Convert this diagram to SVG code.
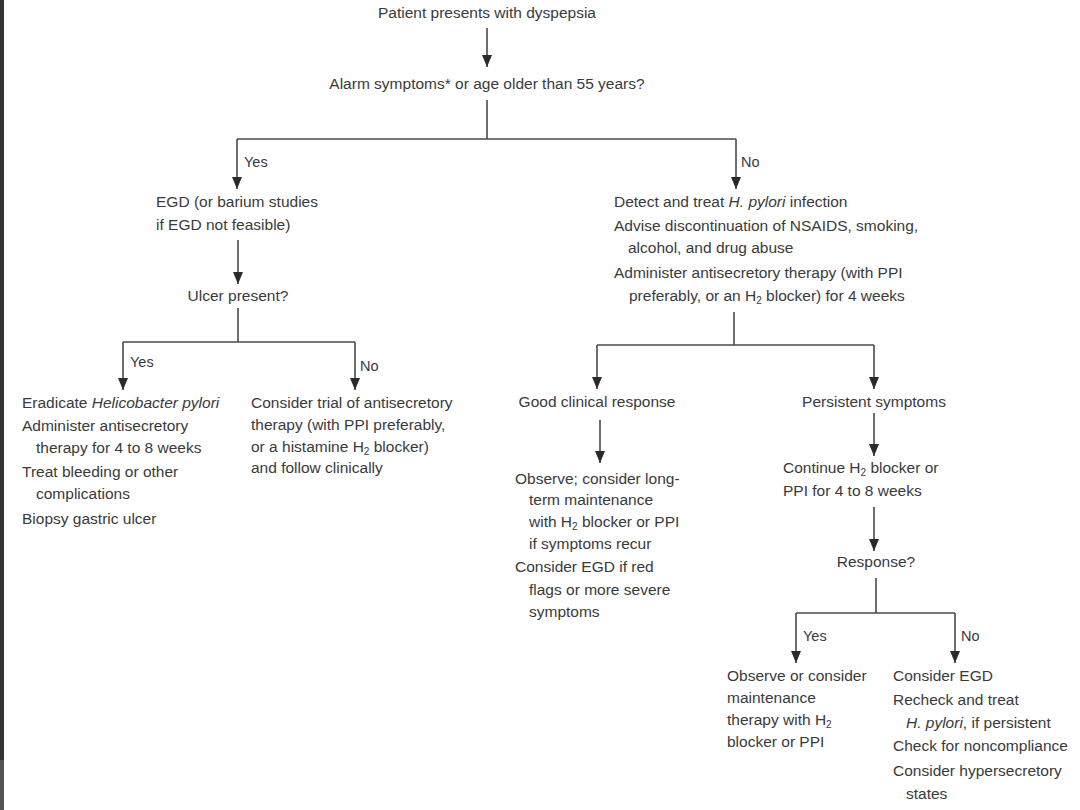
<svg xmlns="http://www.w3.org/2000/svg" width="1080" height="810" viewBox="0 0 1080 810">
<defs>
<style>
text{font-family:"Liberation Sans",Arial,sans-serif;font-size:15.5px;fill:#3a3a3a}
.c{text-anchor:middle}
.i{font-style:italic}
.lbl{font-size:14.5px}
.conn line{stroke:#4a4a4a;stroke-width:1.6;fill:none}
.sub{font-size:10px}
</style>
<marker id="ah" viewBox="0 0 12 10" refX="12" refY="5" markerWidth="12" markerHeight="10" markerUnits="userSpaceOnUse" orient="auto">
<path d="M0,0 L12,5 L0,10 z" fill="#2a2a2a"/>
</marker>
</defs>
<rect width="1080" height="810" fill="#ffffff"/>
<rect x="0" y="0" width="4" height="760" fill="#333333"/>
<rect x="0" y="760" width="4" height="50" fill="#555555"/>

<g class="conn" id="connectors">
<line x1="487" y1="28" x2="487" y2="67" marker-end="url(#ah)"/>
<line x1="487" y1="100" x2="487" y2="139"/>
<line x1="237" y1="139" x2="736" y2="139"/>
<line x1="237" y1="139" x2="237" y2="189" marker-end="url(#ah)"/>
<line x1="736" y1="139" x2="736" y2="189" marker-end="url(#ah)"/>
<line x1="238" y1="240" x2="238" y2="284" marker-end="url(#ah)"/>
<line x1="238" y1="308" x2="238" y2="342"/>
<line x1="123" y1="342" x2="355" y2="342"/>
<line x1="123" y1="342" x2="123" y2="390" marker-end="url(#ah)"/>
<line x1="355" y1="342" x2="355" y2="390" marker-end="url(#ah)"/>
<line x1="734" y1="312" x2="734" y2="345"/>
<line x1="597" y1="345" x2="874" y2="345"/>
<line x1="597" y1="345" x2="597" y2="389" marker-end="url(#ah)"/>
<line x1="874" y1="345" x2="874" y2="389" marker-end="url(#ah)"/>
<line x1="600" y1="420" x2="600" y2="463" marker-end="url(#ah)"/>
<line x1="874" y1="413" x2="874" y2="456" marker-end="url(#ah)"/>
<line x1="874" y1="507" x2="874" y2="551" marker-end="url(#ah)"/>
<line x1="876" y1="578" x2="876" y2="613"/>
<line x1="796" y1="613" x2="955" y2="613"/>
<line x1="796" y1="613" x2="796" y2="663" marker-end="url(#ah)"/>
<line x1="955" y1="613" x2="955" y2="663" marker-end="url(#ah)"/>
<text class="lbl" x="244" y="167">Yes</text>
<text class="lbl" x="741" y="167">No</text>
<text class="lbl" x="130" y="367">Yes</text>
<text class="lbl" x="360" y="371">No</text>
<text class="lbl" x="803" y="641">Yes</text>
<text class="lbl" x="961" y="641">No</text>
</g>

<g id="start"><text class="c" x="487" y="18">Patient presents with dyspepsia</text></g>
<g id="alarm"><text class="c" x="487" y="89">Alarm symptoms* or age older than 55 years?</text></g>
<g id="egd">
<text x="156" y="207">EGD (or barium studies</text>
<text x="156" y="230">if EGD not feasible)</text>
</g>
<g id="ulcer"><text class="c" x="238" y="301">Ulcer present?</text></g>
<g id="ulcer-yes">
<text x="22" y="408">Eradicate <tspan class="i">Helicobacter pylori</tspan></text>
<text x="22" y="431">Administer antisecretory</text>
<text x="36" y="453">therapy for 4 to 8 weeks</text>
<text x="22" y="477">Treat bleeding or other</text>
<text x="36" y="499">complications</text>
<text x="22" y="524">Biopsy gastric ulcer</text>
</g>
<g id="ulcer-no">
<text x="251" y="408">Consider trial of antisecretory</text>
<text x="251" y="430">therapy (with PPI preferably,</text>
<text x="251" y="452">or a histamine H<tspan class="sub" dy="3">2</tspan><tspan dy="-3"> blocker)</tspan></text>
<text x="251" y="473">and follow clinically</text>
</g>
<g id="no-alarm">
<text x="614" y="207">Detect and treat <tspan class="i">H. pylori</tspan> infection</text>
<text x="614" y="231">Advise discontinuation of NSAIDS, smoking,</text>
<text x="628" y="253">alcohol, and drug abuse</text>
<text x="614" y="278">Administer antisecretory therapy (with PPI</text>
<text x="629" y="301">preferably, or an H<tspan class="sub" dy="3">2</tspan><tspan dy="-3"> blocker) for 4 weeks</tspan></text>
</g>
<g id="good"><text class="c" x="597" y="407">Good clinical response</text></g>
<g id="persistent"><text class="c" x="874" y="407">Persistent symptoms</text></g>
<g id="observe">
<text x="515" y="484">Observe; consider long-</text>
<text x="529" y="505">term maintenance</text>
<text x="529" y="527">with H<tspan class="sub" dy="3">2</tspan><tspan dy="-3"> blocker or PPI</tspan></text>
<text x="529" y="549">if symptoms recur</text>
<text x="515" y="572">Consider EGD if red</text>
<text x="529" y="595">flags or more severe</text>
<text x="529" y="617">symptoms</text>
</g>
<g id="continue">
<text x="783" y="473">Continue H<tspan class="sub" dy="3">2</tspan><tspan dy="-3"> blocker or</tspan></text>
<text x="783" y="496">PPI for 4 to 8 weeks</text>
</g>
<g id="response"><text class="c" x="876" y="567">Response?</text></g>
<g id="resp-yes">
<text x="727" y="681">Observe or consider</text>
<text x="727" y="703">maintenance</text>
<text x="727" y="725">therapy with H<tspan class="sub" dy="3">2</tspan></text>
<text x="727" y="747">blocker or PPI</text>
</g>
<g id="resp-no">
<text x="893" y="681">Consider EGD</text>
<text x="893" y="705">Recheck and treat</text>
<text x="906" y="728"><tspan class="i">H. pylori</tspan>, if persistent</text>
<text x="893" y="751">Check for noncompliance</text>
<text x="893" y="776">Consider hypersecretory</text>
<text x="906" y="799">states</text>
</g>
</svg>
